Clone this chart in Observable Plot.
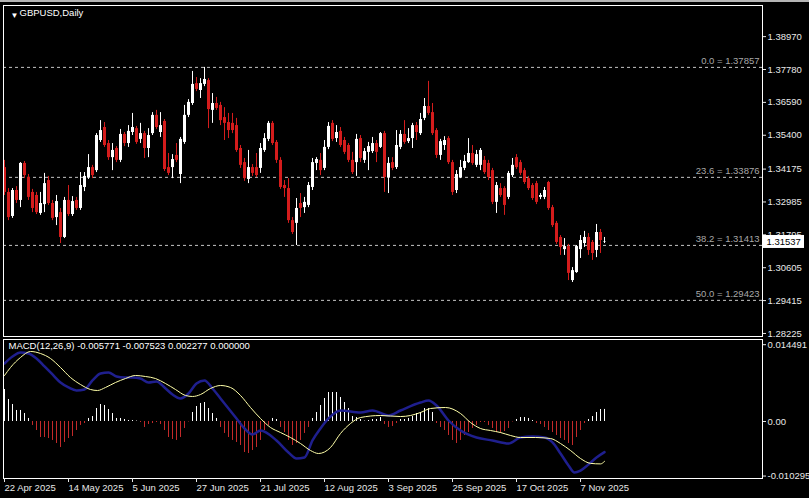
<!DOCTYPE html>
<html><head><meta charset="utf-8">
<script src="https://cdn.jsdelivr.net/npm/d3@7"></script>
<script src="https://cdn.jsdelivr.net/npm/@observablehq/plot@0.6"></script>
<style>
html,body{margin:0;padding:0;background:#000;}
#chart{position:relative;width:809px;height:498px;background:#000;overflow:hidden;}
#price{position:absolute;left:0;top:0;}
#macd{position:absolute;left:0;top:339px;}
#topline{position:absolute;left:0;top:0;width:809px;height:2px;background:#b4b4b4;}
</style></head><body>
<div id="chart"><div id="price"></div><div id="macd"></div><div id="topline"></div></div>
<script>
// ---- Data (GBPUSD daily, bar 0 = 22 Apr 2025) ----
const open = [1.3423,1.3333,1.3246,1.3340,1.3304,1.3438,1.3387,1.3333,1.3322,1.3257,
1.3289,1.3376,1.3293,1.3242,1.3260,1.3170,1.3304,1.3253,1.3304,1.3275,
1.3351,1.3387,1.3423,1.3412,1.3521,1.3568,1.3510,1.3459,1.3492,1.3449,
1.3543,1.3510,1.3550,1.3564,1.3525,1.3546,1.3492,1.3546,1.3612,1.3550,
1.3590,1.3423,1.3423,1.3467,1.3398,1.3514,1.3612,1.3655,1.3727,1.3702,
1.3724,1.3738,1.3630,1.3655,1.3648,1.3604,1.3586,1.3583,1.3575,1.3492,
1.3441,1.3380,1.3423,1.3423,1.3420,1.3485,1.3525,1.3583,1.3514,1.3449,
1.3358,1.3347,1.3231,1.3221,1.3293,1.3278,1.3286,1.3351,1.3438,1.3449,
1.3420,1.3496,1.3583,1.3528,1.3554,1.3521,1.3503,1.3449,1.3441,1.3528,
1.3449,1.3478,1.3481,1.3510,1.3496,1.3546,1.3387,1.3441,1.3423,1.3496,
1.3543,1.3517,1.3528,1.3575,1.3546,1.3601,1.3644,1.3622,1.3557,1.3467,
1.3503,1.3528,1.3441,1.3340,1.3387,1.3420,1.3441,1.3474,1.3431,1.3431,
1.3449,1.3438,1.3412,1.3297,1.3347,1.3347,1.3315,1.3394,1.3459,1.3441,
1.3412,1.3383,1.3358,1.3365,1.3315,1.3315,1.3369,1.3278,1.3221,1.3170,
1.3126,1.3137,1.3014,1.3043,1.3126,1.3148,1.3170,1.3152,1.3123,1.3188,
1.3152];
const high = [1.3449,1.3347,1.3347,1.3354,1.3441,1.3445,1.3398,1.3344,1.3333,1.3333,
1.3402,1.3391,1.3304,1.3322,1.3275,1.3315,1.3358,1.3318,1.3315,1.3405,
1.3405,1.3470,1.3431,1.3546,1.3593,1.3586,1.3521,1.3510,1.3499,1.3561,
1.3550,1.3575,1.3619,1.3572,1.3583,1.3554,1.3564,1.3622,1.3630,1.3622,
1.3597,1.3474,1.3470,1.3510,1.3532,1.3648,1.3669,1.3771,1.3749,1.3745,
1.37857,1.3745,1.3691,1.3677,1.3659,1.3640,1.3619,1.3619,1.3601,1.3503,
1.3456,1.3485,1.3434,1.3474,1.3510,1.3546,1.3590,1.3590,1.3521,1.3459,
1.3376,1.3383,1.3242,1.3311,1.3329,1.3315,1.3369,1.3456,1.3459,1.3474,
1.3521,1.3586,1.3593,1.3575,1.3568,1.3532,1.3510,1.3478,1.3543,1.3539,
1.3492,1.3514,1.3532,1.3521,1.3550,1.3554,1.3459,1.3459,1.3557,1.3557,
1.3593,1.3564,1.3583,1.3586,1.3619,1.3673,1.3735,1.3655,1.3564,1.3525,
1.3535,1.3535,1.3449,1.3412,1.3449,1.3467,1.3528,1.3503,1.3485,1.3492,
1.3463,1.3449,1.3420,1.3369,1.3365,1.3354,1.3409,1.3456,1.3470,1.3449,
1.3420,1.3391,1.3365,1.3373,1.3329,1.3351,1.3373,1.3286,1.3228,1.3177,
1.3166,1.3145,1.3061,1.3141,1.3177,1.3192,1.3184,1.3159,1.3217,1.3199,
1.3170];
const low = [1.3322,1.3231,1.3239,1.3293,1.3278,1.3383,1.3304,1.3260,1.3253,1.3250,
1.3260,1.3286,1.3231,1.3213,1.3148,1.3166,1.3246,1.3246,1.3268,1.3268,
1.3336,1.3380,1.3383,1.3405,1.3514,1.3496,1.3449,1.3412,1.3441,1.3441,
1.3499,1.3496,1.3539,1.3507,1.3510,1.3456,1.3459,1.3539,1.3561,1.3532,
1.3409,1.3394,1.3383,1.3441,1.3365,1.3507,1.3604,1.3648,1.3698,1.3673,
1.3716,1.3564,1.3583,1.3630,1.3575,1.3521,1.3528,1.3546,1.3478,1.3420,
1.3373,1.3365,1.3391,1.3387,1.3402,1.3478,1.3517,1.3503,1.3438,1.3344,
1.3315,1.3221,1.3181,1.3141,1.3242,1.3257,1.3278,1.3340,1.3412,1.3394,
1.3412,1.3488,1.3517,1.3514,1.3496,1.3470,1.3441,1.3398,1.3391,1.3441,
1.3438,1.3412,1.3474,1.3441,1.3492,1.3333,1.3329,1.3412,1.3416,1.3488,
1.3507,1.3510,1.3492,1.3521,1.3539,1.3593,1.3612,1.3539,1.3456,1.3449,
1.3485,1.3434,1.3322,1.3329,1.3383,1.3412,1.3438,1.3431,1.3423,1.3412,
1.3398,1.3376,1.3289,1.3257,1.3315,1.3250,1.3307,1.3387,1.3416,1.3394,
1.3362,1.3340,1.3304,1.3289,1.3307,1.3307,1.3268,1.3206,1.3145,1.3105,
1.3105,1.3014,1.3007,1.3040,1.3094,1.3134,1.3105,1.3087,1.3097,1.3112,
1.3148];
const close = [1.3333,1.3242,1.3340,1.3304,1.3438,1.3394,1.3315,1.3275,1.3260,1.3293,
1.3365,1.3293,1.3239,1.3300,1.3170,1.3304,1.3253,1.3300,1.3275,1.3358,
1.3391,1.3423,1.3394,1.3539,1.3557,1.3503,1.3459,1.3485,1.3449,1.3543,
1.3510,1.3554,1.3568,1.3514,1.3546,1.3492,1.3539,1.3612,1.3568,1.3575,
1.3416,1.3402,1.3452,1.3449,1.3525,1.3612,1.3659,1.3724,1.3706,1.3727,
1.3742,1.3633,1.3655,1.3637,1.3593,1.3583,1.3557,1.3557,1.3485,1.3431,
1.3383,1.3423,1.3402,1.3394,1.3492,1.3528,1.3583,1.3510,1.3449,1.3351,
1.3347,1.3231,1.3188,1.3275,1.3275,1.3297,1.3358,1.3441,1.3452,1.3412,
1.3496,1.3572,1.3525,1.3550,1.3503,1.3478,1.3449,1.3405,1.3525,1.3456,
1.3481,1.3499,1.3510,1.3478,1.3546,1.3387,1.3438,1.3420,1.3503,1.3543,
1.3514,1.3528,1.3575,1.3550,1.3597,1.3644,1.3619,1.3546,1.3467,1.3517,
1.3521,1.3441,1.3333,1.3398,1.3423,1.3445,1.3474,1.3438,1.3470,1.3485,
1.3405,1.3387,1.3297,1.3358,1.3322,1.3286,1.3402,1.3431,1.3423,1.3402,
1.3369,1.3347,1.3311,1.3297,1.3322,1.3340,1.3275,1.3213,1.3152,1.3134,
1.3137,1.3040,1.3050,1.3137,1.3159,1.3170,1.3123,1.3112,1.3188,1.3159,
1.31537];

// MACD histogram (one per bar)
const histVal = [0.00604,0.00415,0.00321,0.00208,0.00208,0.00151,0.00057,-0.00075,-0.00170,-0.00302,
-0.00302,-0.00321,-0.00358,-0.00415,-0.00491,-0.00396,-0.00321,-0.00283,-0.00170,-0.00075,
-0.00038,0.00057,0.00094,0.00245,0.00321,0.00302,0.00226,0.00151,0.00057,0.00057,
0.00038,0.00019,0.00019,0.00009,-0.00019,-0.00113,-0.00057,-0.00038,-0.00019,-0.00057,
-0.00170,-0.00302,-0.00340,-0.00358,-0.00302,-0.00132,-0.00009,0.00170,0.00283,0.00340,
0.00358,0.00245,0.00151,0.00057,-0.00113,-0.00226,-0.00302,-0.00358,-0.00396,-0.00453,
-0.00585,-0.00604,-0.00547,-0.00491,-0.00358,-0.00170,-0.00075,0.00057,0.00038,-0.00113,
-0.00208,-0.00358,-0.00453,-0.00415,-0.00358,-0.00226,-0.00113,0.00057,0.00170,0.00302,
0.00434,0.00547,0.00547,0.00547,0.00453,0.00358,0.00245,0.00094,0.00075,0.00038,
0.00009,0.00019,0.00038,0.00038,0.00075,-0.00057,-0.00113,-0.00094,-0.00038,0.00038,
0.00038,0.00057,0.00094,0.00151,0.00170,0.00245,0.00245,0.00170,-0.00038,-0.00113,
-0.00170,-0.00264,-0.00358,-0.00415,-0.00358,-0.00264,-0.00208,-0.00132,-0.00075,-0.00019,
-0.00019,-0.00075,-0.00132,-0.00208,-0.00226,-0.00189,-0.00132,-0.00009,0.00038,0.00075,
0.00075,0.00057,0.00019,-0.00038,-0.00057,-0.00113,-0.00170,-0.00208,-0.00264,-0.00321,
-0.00358,-0.00415,-0.00453,-0.00302,-0.00170,-0.00038,0.00038,0.00094,0.00170,0.00226,
0.002277];

// MACD main line (blue), read at these bars
const macdBar = [0,2,4,6,8,10,12,14,16,18,20,22,24,26,28,30,32,34,36,38,40,42,44,46,48,50,52,54,56,58,
60,62,64,68,71,73,75,77,79,81,84,89,92,96,99,104,106,108,111,114,118,122,126,129,132,135,137,139,141,142.5,144,146,148,150];
const macdVal = [0.01094,0.01226,0.01302,0.01283,0.01189,0.01038,0.00887,0.00736,0.00642,0.00585,0.00604,0.00774,0.00906,0.00925,0.00849,0.00830,0.00830,0.00811,0.00736,0.00755,0.00642,0.00509,0.00434,0.00528,0.00717,0.00774,0.00623,0.00434,0.00245,0.00057,
-0.00132,-0.00245,-0.00170,-0.00358,-0.00585,-0.00698,-0.00679,-0.00358,-0.00132,0.00057,0.00208,0.00170,0.00208,0.00113,0.00208,0.00358,0.00396,0.00302,0.00019,-0.00170,-0.00302,-0.00358,-0.00415,-0.00302,-0.00283,-0.00302,-0.00396,-0.00604,-0.00830,-0.00962,-0.00925,-0.00811,-0.00679,-0.005771];

// Signal line (yellow), read at these bars
const sigBar = [0,1.5,4,6.5,9,11.5,14,16.5,19,21.5,23.25,25.25,27.75,30.25,32.75,35.25,37.75,40.25,42.75,45.25,47,49,51.5,54,56.5,59,61.5,64,66.5,69,71.5,74,76.5,78.5,81.5,84,86.5,89,94,99,101.5,104,106.5,110.25,114,116.5,119,121.5,124,126.5,129,132.75,136.5,139,141.5,144,146.5,149,150];
const sigVal = [0.00868,0.01019,0.01208,0.01321,0.01283,0.01189,0.01019,0.00830,0.00698,0.00604,0.00585,0.00642,0.00736,0.00811,0.00868,0.00849,0.00811,0.00717,0.00604,0.00491,0.00472,0.00509,0.00623,0.00679,0.00642,0.00491,0.00264,0.00057,-0.00113,-0.00208,-0.00302,-0.00415,-0.00547,-0.00604,-0.00491,-0.00226,-0.00038,0.00075,0.00113,0.00094,0.00113,0.00170,0.00245,0.00264,0.00151,-0.00019,-0.00132,-0.00170,-0.00208,-0.00264,-0.00302,-0.00302,-0.00321,-0.00415,-0.00547,-0.00698,-0.00790,-0.00800,-0.007523];

// Fibonacci levels
const fibLevel = ["0.0","23.6","38.2","50.0"];
const fibPrice = [1.37857,1.33876,1.31413,1.29423];

// Axis ticks
const priceTicks = [1.38970,1.37780,1.36590,1.35400,1.34175,1.32985,1.31795,1.30605,1.29415,1.28225];
const macdTicks = [0.014491,0,-0.010295];
const macdTickLabels = ["0.014491","0.00","-0.010295"];
const dateTickBar = [0,16,32,48,64,80,96,112,128,144];
const dateTickLabel = ["22 Apr 2025","14 May 2025","5 Jun 2025","27 Jun 2025","21 Jul 2025","12 Aug 2025","3 Sep 2025","25 Sep 2025","17 Oct 2025","7 Nov 2025"];

const symbolTitle = "GBPUSD,Daily";

// ---- Build tables ----
const candles = open.map((o, i) => ({i, o, h: high[i], l: low[i], c: close[i]}));
const hist = histVal.map((v, i) => ({i, v}));
const macdPts = macdBar.map((b, k) => ({i: b, v: macdVal[k]}));
const sigPts = sigBar.map((b, k) => ({i: b, v: sigVal[k]}));
const fib = fibLevel.map((l, k) => ({lvl: l, p: fibPrice[k]}));
const last = candles[candles.length - 1];
const macdTitle = `MACD(12,26,9) ${macdVal[macdVal.length-1].toFixed(6)} ${sigVal[sigVal.length-1].toFixed(6)} ${histVal[histVal.length-1].toFixed(6)} ${(0).toFixed(6)}`;

const BULL = "#ffffff", BEAR = "#d41c1c";
const xDomain = [-0.25, 189.5];
const font = "'Liberation Sans', Arial, sans-serif";
const baseStyle = {background: "#000", color: "#e8e8e8", fontFamily: font, fontSize: "9.5px", overflow: "visible"};

const priceChart = Plot.plot({
  width: 809, height: 338,
  marginLeft: 3, marginRight: 47, marginTop: 5, marginBottom: 2,
  x: {type: "linear", domain: xDomain, axis: null},
  y: {type: "linear", domain: [1.28115, 1.40097], axis: null},
  style: baseStyle,
  marks: [
    Plot.ruleY(fib, {y: "p", stroke: "#c4c4c4", strokeDasharray: "3,3", strokeWidth: 1}),
    Plot.ruleX(candles, {x: "i", y1: "l", y2: "h", stroke: d => d.c >= d.o ? BULL : BEAR, strokeWidth: 1}),
    Plot.ruleX(candles, {x: "i", y1: "o", y2: "c", stroke: d => d.c >= d.o ? BULL : BEAR, strokeWidth: 3}),
    Plot.text(fib, {y: "p", text: d => `${d.lvl} = ${d.p.toFixed(5)}`, frameAnchor: "right", textAnchor: "end", dx: -3, dy: -6, fill: "#a8a8a8"}),
    Plot.frame({stroke: "#ffffff"}),
    Plot.axisY(priceTicks, {anchor: "right", tickSize: 3, tickPadding: 2, tickFormat: d => d.toFixed(5), label: null, stroke: "#e8e8e8", fill: "#e8e8e8"}),
    Plot.rect([last], {x1: () => xDomain[1], x2: () => xDomain[1] + 10.5, y1: d => d.c - 0.00235, y2: d => d.c + 0.00235, fill: "#ffffff"}),
    Plot.text([last], {x: () => xDomain[1], y: "c", text: d => d.c.toFixed(5), dx: 4, textAnchor: "start", fill: "#000000"}),
    Plot.text(["\u25BC"], {text: d => d, frameAnchor: "top-left", dx: 7, dy: 7, fontSize: 8, fill: "#ffffff"}),
    Plot.text([symbolTitle], {text: d => d, frameAnchor: "top-left", dx: 16, dy: 4, fill: "#ffffff"})
  ]
});
document.getElementById("price").appendChild(priceChart);

const macdChart = Plot.plot({
  width: 809, height: 159,
  marginLeft: 3, marginRight: 47, marginTop: 0, marginBottom: 20,
  x: {type: "linear", domain: xDomain, axis: null},
  y: {type: "linear", domain: [-0.010755, 0.015472], axis: null},
  style: baseStyle,
  marks: [
    Plot.ruleX(hist, {x: "i", y1: 0, y2: "v", stroke: d => d.v >= 0 ? "#ffffff" : "#c22a2a", strokeWidth: 1}),
    Plot.line(macdPts, {x: "i", y: "v", stroke: "#1f1f8e", strokeWidth: 2.5, curve: "monotone-x"}),
    Plot.line(sigPts, {x: "i", y: "v", stroke: "#ffffa8", strokeWidth: 1, curve: "monotone-x"}),
    Plot.frame({stroke: "#ffffff"}),
    Plot.axisY(macdTicks, {anchor: "right", tickSize: 3, tickPadding: 2, tickFormat: d => macdTickLabels[macdTicks.indexOf(d)], label: null, stroke: "#e8e8e8", fill: "#e8e8e8"}),
    Plot.axisX(dateTickBar, {anchor: "bottom", tickSize: 4, tickPadding: 2, textAnchor: "start", tickFormat: d => dateTickLabel[dateTickBar.indexOf(d)], label: null, stroke: "#e8e8e8", fill: "#e8e8e8"}),
    Plot.text([macdTitle], {text: d => d, frameAnchor: "top-left", dx: 5, dy: 3, fill: "#ffffff"})
  ]
});
document.getElementById("macd").appendChild(macdChart);
</script></body></html>
